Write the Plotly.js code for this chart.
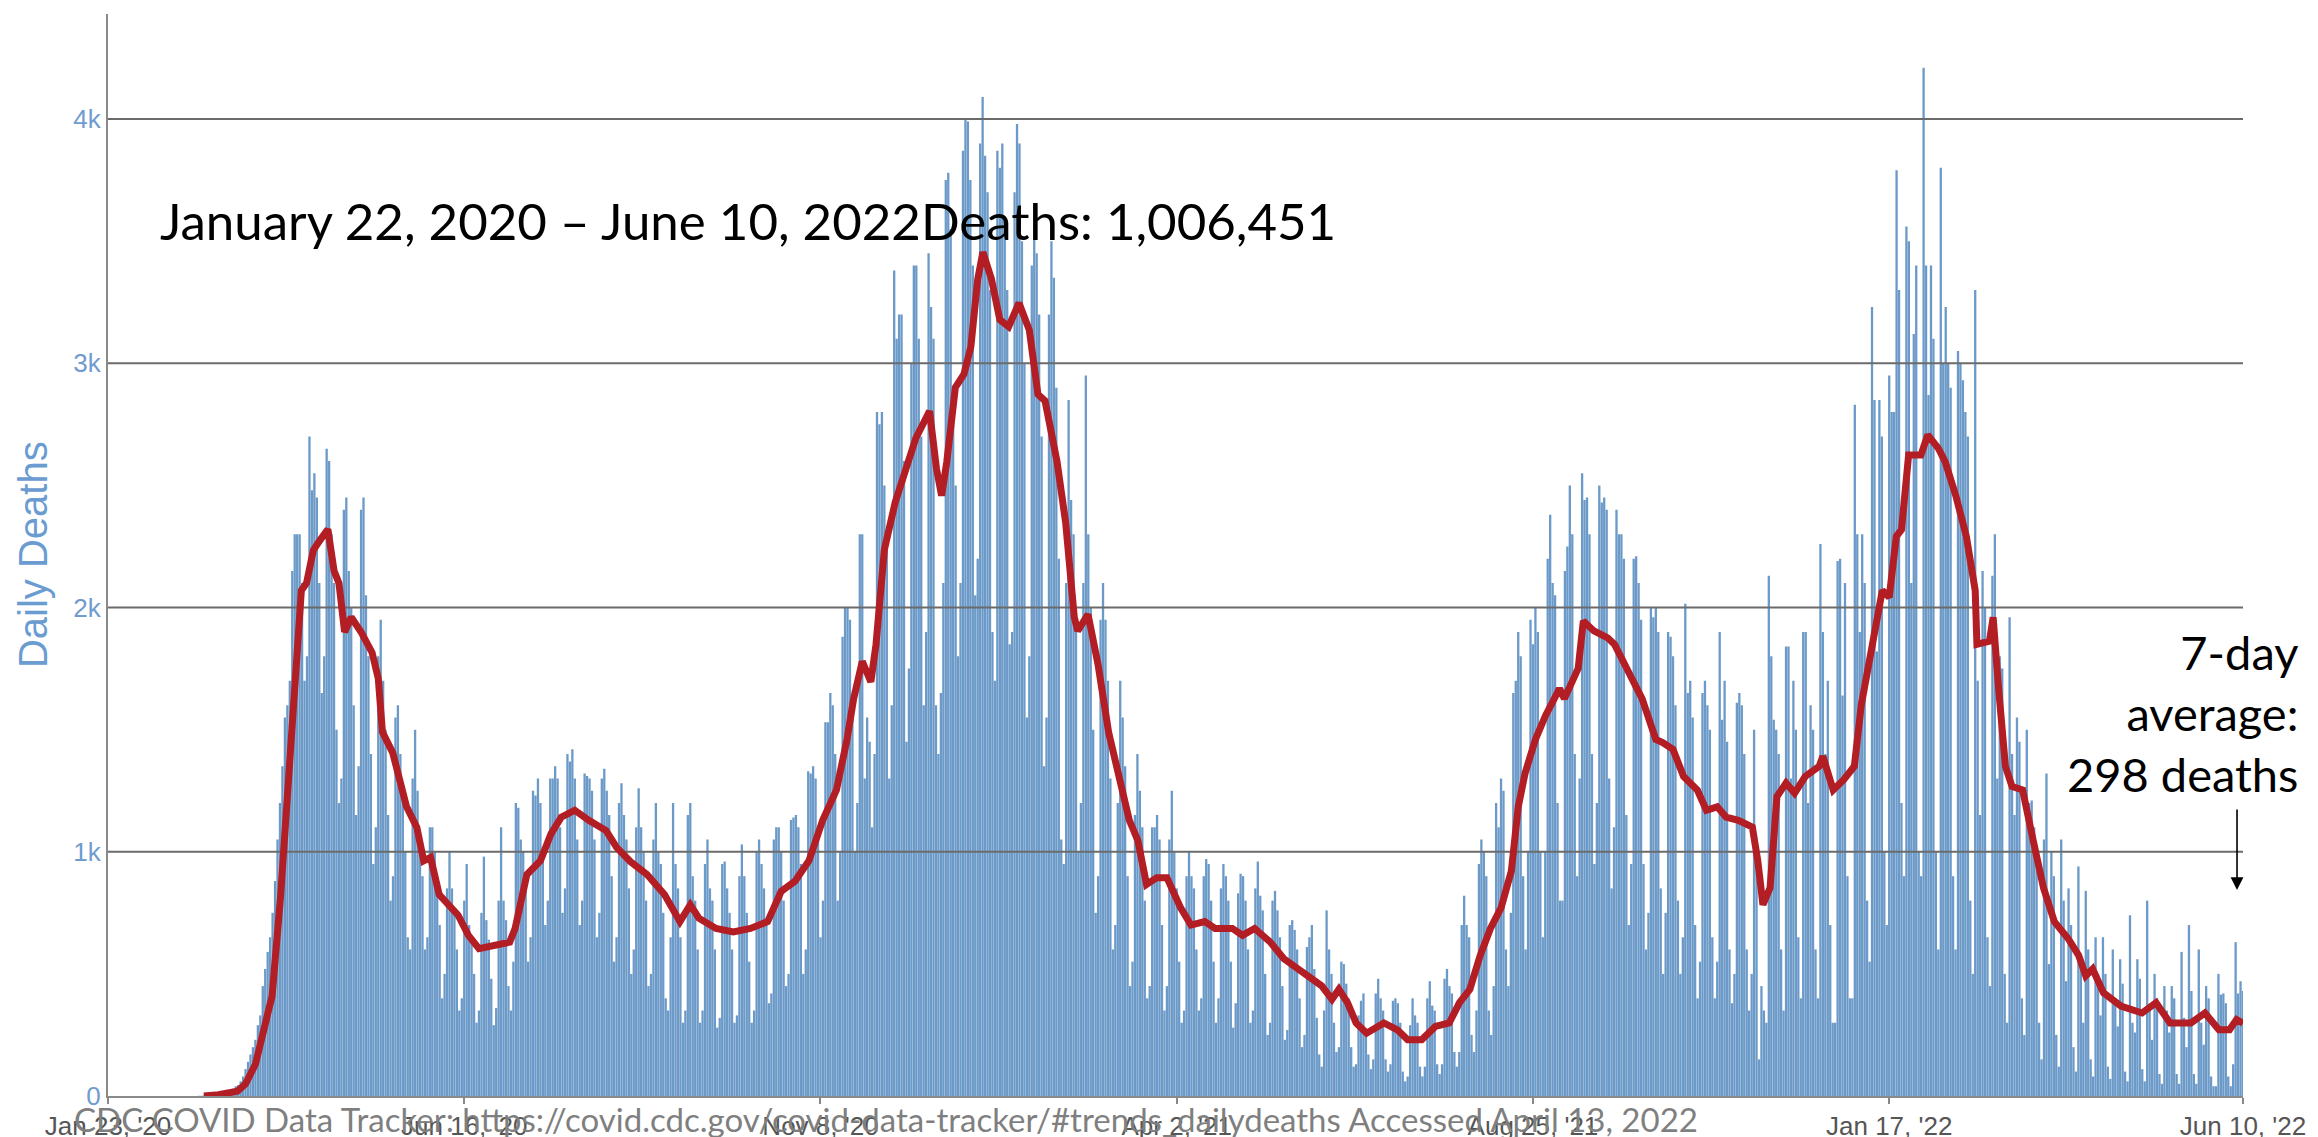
<!DOCTYPE html>
<html>
<head>
<meta charset="utf-8">
<script src="https://cdn.plot.ly/plotly-3.0.1.min.js"></script>
<style>html,body{margin:0;padding:0;background:#fff;overflow:hidden}#chart{width:2318px;height:1137px}</style>
</head>
<body>
<div id="chart"></div>
<script>
// Daily deaths, one value per day starting Thu Jan 23, 2020 (7 per line = one week Thu..Wed)
const dailyDeaths = [
0,0,0,0,0,0,0,
0,0,0,0,0,0,0,
0,0,0,0,0,0,0,
0,0,0,0,0,0,0,
0,0,0,0,0,0,0,
0,0,1,1,2,4,3,
3,5,6,8,10,20,25,
20,25,30,40,45,60,80,
110,140,170,200,230,290,330,
450,520,590,650,750,880,1050,
1200,1350,1550,1600,1700,2150,2300,
2300,2300,2100,1700,1800,2700,2480,
2550,2450,2100,1650,1800,2650,2600,
2300,2100,1500,1200,1300,2400,2450,
2150,2000,1600,1150,1350,2400,2450,
2050,1800,1400,950,1100,1800,1950,
1700,1500,1150,800,900,1550,1600,
1400,1250,1000,650,600,1300,1500,
1250,1050,900,600,650,1100,1100,
1000,850,700,400,500,850,1000,
850,750,600,350,400,800,950,
700,650,500,300,350,750,980,
720,640,480,290,360,800,1100,
800,720,450,350,550,1200,1180,
1050,1000,850,550,650,1250,1230,
1300,1200,1000,700,800,1300,1300,
1350,1300,1100,750,850,1400,1370,
1420,1300,1050,700,800,1320,1310,
1300,1250,1050,650,750,1300,1340,
1250,1150,900,550,650,1200,1280,
1150,1050,850,500,600,1100,1260,
1100,1000,800,450,500,1050,1200,
1000,950,750,400,350,650,1200,
950,850,650,300,350,1150,1200,
900,800,600,300,350,950,1050,
850,800,600,280,320,950,960,
850,750,600,300,330,900,1030,
900,750,550,300,350,1000,1050,
950,850,700,380,420,1050,1100,
1100,1000,800,450,500,1130,1140,
1150,1100,950,500,600,1330,1320,
1350,1300,1100,650,800,1530,1530,
1650,1600,1400,800,1000,1880,2000,
2000,1950,1550,1000,1200,2300,2300,
1300,1550,1450,1100,1400,2800,2750,
2800,2500,2300,1300,1600,3380,3100,
3200,3200,2600,1450,1750,3000,3400,
3400,3100,2700,1600,1900,3450,3230,
3100,1600,1400,1650,2100,3750,3780,
3550,2800,2500,1800,2100,3870,4000,
3990,3750,3400,2050,2200,3900,4090,
3850,3700,3300,1900,1700,3870,3800,
3900,3600,3300,1850,1900,3700,3980,
3900,3500,3000,1550,1800,3400,3650,
3450,3200,2700,1350,1550,3200,3500,
3350,2900,2200,1050,950,2100,2850,
2440,2300,1900,1000,1200,2100,2950,
2300,2000,1500,750,900,1950,2100,
1950,1700,1300,600,700,1200,1700,
1550,1350,900,450,550,1150,1400,
1250,1100,800,400,450,1100,1100,
1150,1050,700,350,450,1050,1250,
1000,850,550,300,350,900,1000,
900,850,600,350,400,900,970,
950,800,550,300,400,850,950,
900,800,550,280,380,830,910,
900,800,600,300,350,850,960,
820,760,500,250,300,800,840,
760,650,450,230,270,700,720,
680,600,400,200,250,610,650,
700,520,320,170,120,350,760,
600,500,300,180,200,550,540,
460,400,200,120,130,330,390,
420,250,170,110,150,420,480,
400,350,150,100,130,390,400,
380,300,100,60,80,290,400,
330,300,120,80,120,400,470,
370,350,130,90,130,480,520,
450,420,180,120,180,700,820,
700,650,250,180,350,950,1050,
1000,900,350,250,450,1200,1100,
1300,1250,600,450,750,1650,1700,
1900,1800,900,600,1000,1950,1850,
2000,1900,1000,650,1000,2200,2380,
2100,2050,1200,800,800,2150,2250,
2500,2300,1400,900,1300,2550,2440,
2450,2300,1400,950,1200,2500,2430,
2450,2400,1300,850,1100,2400,2300,
2300,2200,1150,700,950,2200,2210,
2100,1950,950,600,750,2000,1960,
2000,1900,850,500,750,1900,1880,
1800,1600,800,500,650,2015,1650,
1700,1550,700,400,550,1650,1700,
1600,1500,650,400,550,1900,1540,
1700,1450,600,380,500,1610,1650,
1600,1400,600,350,500,1500,1050,
150,450,350,300,2130,1800,1540,
1500,1400,600,350,1840,1840,1300,
1700,1500,650,400,1900,1900,1200,
1600,1500,600,400,2260,1900,1400,
1700,700,300,300,2190,2200,1640,
2100,900,400,400,2830,2300,1900,
2300,2100,800,550,3230,2850,1820,
2850,2700,1000,700,2950,2800,2800,
3790,3300,1200,900,3560,3500,2100,
3120,3400,1000,900,4210,3400,2870,
3400,3100,1000,600,3800,3000,3230,
3000,2900,900,600,3050,3000,2930,
2800,2700,800,500,3300,1700,1150,
2150,2000,650,450,2130,2300,1300,
1800,1750,500,300,1960,1400,1150,
1550,1450,400,250,1500,1200,1210,
1100,1000,300,150,1050,1320,540,
1000,900,250,120,1050,800,470,
850,700,200,100,940,550,300,
840,600,150,80,650,500,330,
650,500,120,70,600,400,285,
560,460,100,60,740,300,260,
560,480,110,60,800,350,230,
500,400,90,50,450,350,260,
450,400,90,50,590,320,200,
700,430,90,50,600,300,210,
450,400,80,40,40,500,415,
420,380,80,40,130,630,420,
470,430
];

// 7-day average: day offset from Jan 23, 2020 and value
const avgDay = [39,45,52.8,56,60,63,66.8,70.3,73,76,78.7,80.8,83.6,86.4,89.5,92,94,96.3,99,103,107.5,110,111.7,115.9,118.7,121.5,125.7,128.5,131.3,134.8,142.5,146.7,151,156.5,163.5,165.7,170.5,176,180.3,184.5,190,195.7,202.7,207,212.6,219.4,226.5,232.8,237,240.5,247.5,254.5,261.5,268.5,274,279.7,285.3,290.9,296.5,300.8,303.5,307,310.5,312.6,316,320.4,324.6,328.8,334.4,337.2,339.3,341.4,344.9,348.4,351.2,354,356.1,359.6,363,366.6,370.8,375,378.5,381.4,386.3,389.8,393.3,394.7,398.9,403,407.3,411.5,415.7,419.2,422.7,426.9,431,436.6,440.8,446.4,450.6,457.6,461.8,466.7,473,478.6,484.2,489.8,494,498.2,501,504.5,508,512.3,519.3,524.8,529,534.7,540.3,545.9,550.1,554.3,558.5,562.7,567,571.2,574,576.8,581,585.1,590.8,592.8,596.3,598.4,600.5,604.8,610.4,613.2,618.8,624.4,630,632.8,637,641.3,646.9,650.6,655,658.6,663.6,669.3,671.5,673.6,676.5,679.3,683,686.5,690.8,696.5,698,702.2,706.5,710.8,713.6,717.9,722.2,725,727.9,730,732.9,737.9,740.7,745,747.8,752.1,756.4,760,760.7,765.8,767.3,769.4,772.3,775,779.3,783.6,787.8,792.2,797.8,802.1,805,807.8,812.2,819.3,825,827.9,833.6,839.3,847.8,853.5,859.2,863.5,866.4,869];
const avgVal = [0,5,20,50,130,250,410,825,1240,1710,2070,2100,2235,2277,2320,2150,2100,1900,1960,1900,1815,1710,1490,1405,1295,1185,1100,963,977,825,740,658,603,617,630,686,907,963,1073,1142,1170,1129,1087,1018,960,907,825,714,783,728,686,672,686,714,838,880,963,1129,1253,1460,1627,1779,1696,1849,2237,2430,2569,2693,2804,2569,2458,2596,2901,2956,3067,3344,3455,3344,3178,3150,3247,3136,2873,2846,2596,2347,1960,1904,1972,1765,1488,1322,1129,1046,866,894,894,770,700,714,686,686,658,686,631,562,520,479,451,396,437,382,299,257,299,271,230,230,285,299,382,437,575,686,770,921,1184,1322,1460,1557,1668,1627,1709,1751,1945,1904,1876,1849,1738,1627,1460,1447,1419,1308,1253,1170,1184,1142,1129,1101,963,783,852,1226,1281,1240,1308,1350,1391,1253,1295,1350,1599,1820,2070,2042,2291,2319,2624,2624,2707,2652,2596,2458,2291,2070,1849,1862,1960,1683,1350,1267,1253,1046,852,714,645,576,492,520,423,368,354,340,382,299,299,340,271,271,313,298];

const tickDates = ['2020-01-23','2020-06-16','2020-11-08','2021-04-02','2021-08-25','2022-01-17','2022-06-10'];
const tickLabels = ["Jan 23, '20","Jun 16, '20","Nov 8, '20","Apr 2, '21","Aug 25, '21","Jan 17, '22","Jun 10, '22"];
const yTickVals = [0,1000,2000,3000,4000];
const yTickLabels = ['0','1k','2k','3k','4k'];
const gridVals = [1000,2000,3000,4000];

const titleText = 'January 22, 2020 \u2013 June 10, 2022Deaths: 1,006,451';
const sourceText = 'CDC COVID Data Tracker: https://covid.cdc.gov/covid-data-tracker/#trends_dailydeaths Accessed April 13, 2022';
const avgNote = '7-day<br>average:<br>298 deaths';

const DAY = 86400000;
const T0 = Date.UTC(2020,0,23);
const TEND = Date.UTC(2022,5,10);

const gx = [], gy = [];
gridVals.forEach(v => { gx.push(T0, TEND, null); gy.push(v, v, null); });

const traces = [
  {type:'bar', x0:T0, dx:DAY, y:dailyDeaths, marker:{color:'#6c9ac8', line:{width:0}}, hoverinfo:'skip'},
  {type:'scatter', mode:'lines', x:gx, y:gy, line:{color:'#6b6b6b', width:2}, hoverinfo:'skip', cliponaxis:false},
  {type:'scatter', mode:'lines', x:avgDay.map(d => T0 + d*DAY), y:avgVal, line:{color:'#b31d24', width:7}, hoverinfo:'skip'}
];

const layout = {
  width:2318, height:1137,
  margin:{l:108, r:75, t:14, b:41, pad:0, autoexpand:false},
  paper_bgcolor:'#fff', plot_bgcolor:'#fff',
  showlegend:false, bargap:0.06, hovermode:false,
  xaxis:{type:'date', range:[T0, TEND], tickvals:tickDates, ticktext:tickLabels,
    ticks:'outside', ticklen:6, tickwidth:2, tickcolor:'#888',
    showgrid:false, zeroline:false, showline:true, linecolor:'#8a8a8a', linewidth:2,
    tickfont:{family:'Liberation Sans, Arial, sans-serif', size:26, color:'#555'}},
  yaxis:{range:[0,4430], tickvals:yTickVals, ticktext:yTickLabels, ticks:'',
    showgrid:false, zeroline:false, showline:true, linecolor:'#8a8a8a', linewidth:2,
    tickfont:{family:'Liberation Sans, Arial, sans-serif', size:26, color:'#6f9bd0'}},
  annotations:[
    {text:'Daily Deaths', textangle:-90, xref:'paper', yref:'paper', x:-0.0351, y:0.5,
     xanchor:'center', yanchor:'middle', showarrow:false,
     font:{family:'Liberation Sans, Arial, sans-serif', size:40, color:'#6a9bd1'}},
    {text:titleText, xref:'paper', yref:'paper', x:0.0234, y:0.8096, xanchor:'left', yanchor:'middle',
     showarrow:false, font:{family:'Lato, sans-serif', size:51, color:'#000'}},
    {text:sourceText, xref:'paper', yref:'paper', x:-0.0169, y:-0.0213, xanchor:'left', yanchor:'middle',
     showarrow:false, font:{family:'Lato, sans-serif', size:33, color:'#7f7f7f'}},
    {text:avgNote, xref:'paper', yref:'paper', x:1.0267, y:0.354, xanchor:'right', yanchor:'middle', align:'right',
     showarrow:false, font:{family:'Lato, sans-serif', size:47, color:'#000'}},
    {text:'', xref:'paper', yref:'paper', x:0.9972, y:0.1904, showarrow:true, ax:0, ay:-82,
     arrowhead:2, arrowsize:1.6, arrowwidth:1.6, arrowcolor:'#000', standoff:0}
  ]
};

Plotly.newPlot('chart', traces, layout, {staticPlot:true, displayModeBar:false});
</script>
</body>
</html>
